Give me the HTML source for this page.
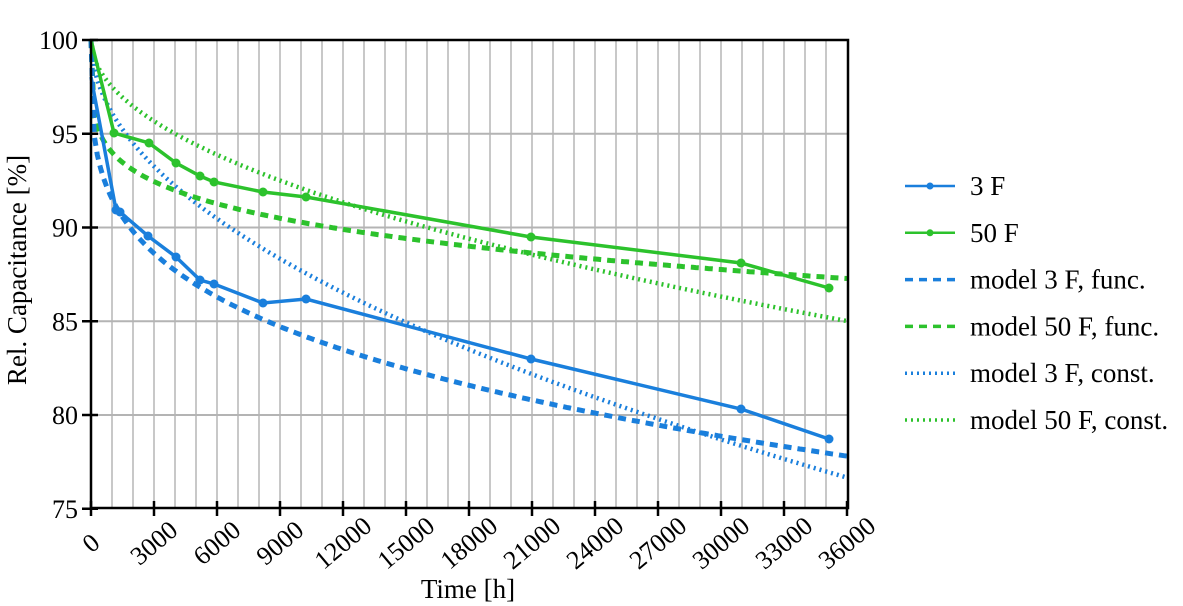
<!DOCTYPE html>
<html><head><meta charset="utf-8"><style>
body{margin:0;background:#fff}
svg{display:block;font-family:"Liberation Serif",serif}
</style></head><body>
<svg id="s" width="1183" height="606" viewBox="0 0 1183 606" xmlns="http://www.w3.org/2000/svg"></svg>
<script>
const X=t=>91+t*0.021, Y=v=>40+(100-v)*18.75;
let h='';
for(let t=1000;t<36000;t+=1000)h+=`<line x1="${X(t)}" y1="40" x2="${X(t)}" y2="508" stroke="#c8c8c8" stroke-width="2"/>`;
for(let v=80;v<100;v+=5)h+=`<line x1="91" y1="${Y(v)}" x2="848" y2="${Y(v)}" stroke="#b4b4b4" stroke-width="2"/>`;
function curve(f,col,dash,w){let p=[];for(let t=0;t<=36000;t+=150)p.push(X(t).toFixed(1)+','+Y(f(t)).toFixed(1));return `<polyline points="${p.join(' ')}" fill="none" stroke="${col}" stroke-width="${w}" stroke-dasharray="${dash}"/>`;}
const B='#1a7fdc',G='#2cc22c';
h+=curve(t=>100-0.079*Math.sqrt(t),G,'2,4',4.5);
h+=curve(t=>100-0.123*Math.sqrt(t),B,'2,4',4.5);
h+=curve(t=>100-1.405*Math.pow(t,0.21),G,'8,6',5);
h+=curve(t=>100-1.32*Math.pow(t,0.269),B,'8,6',5);
const d3=[[91,77],[116,210],[120,212],[148,236],[176,257],[200,280],[214,284],[263,303],[306,299],[531,359],[741,409],[829,439]];
const d50=[[91,40],[114,133],[149,143],[176,163],[200,176],[214,182],[263,192],[306,197],[531,237],[741,263],[829,288]];
function ser(d,c){let s=`<polyline points="${d.map(p=>p.join(',')).join(' ')}" fill="none" stroke="${c}" stroke-width="3.5"/>`;d.slice(1).forEach(p=>s+=`<circle cx="${p[0]}" cy="${p[1]}" r="4.5" fill="${c}"/>`);return s;}
h+=ser(d50,G)+ser(d3,B);
h+=`<rect x="91" y="40" width="757" height="468" fill="none" stroke="#000" stroke-width="2.5"/>`;
for(let t=0;t<=36000;t+=3000){h+=`<line x1="${X(t)}" y1="501" x2="${X(t)}" y2="516" stroke="#000" stroke-width="2.5"/>`;
h+=`<text x="${X(t)}" y="543" font-size="26" text-anchor="middle" dominant-baseline="central" transform="rotate(-40 ${X(t)} 543)">${t}</text>`;}
for(let v=75;v<=100;v+=5){h+=`<line x1="82" y1="${Y(v)}" x2="98" y2="${Y(v)}" stroke="#000" stroke-width="2.5"/>`;
h+=`<text x="78" y="${Y(v)+9}" font-size="26" text-anchor="end">${v}</text>`;}
h+=`<text x="468" y="598" font-size="27" text-anchor="middle">Time [h]</text>`;
h+=`<text x="0" y="0" font-size="27" text-anchor="middle" transform="translate(26 270) rotate(-90)">Rel. Capacitance [%]</text>`;
const L=[['3 F',B,'',1],['50 F',G,'',1],['model 3 F, func.',B,'8,6',0],['model 50 F, func.',G,'8,6',0],['model 3 F, const.',B,'2,4',0],['model 50 F, const.',G,'2,4',0]];
L.forEach((l,i)=>{const y=186+i*46.8;h+=`<line x1="905" y1="${y}" x2="955" y2="${y}" stroke="${l[1]}" stroke-width="${l[3]?2.5:3.5}" stroke-dasharray="${l[2]}"/>`;
if(l[3])h+=`<circle cx="930" cy="${y}" r="3.5" fill="${l[1]}"/>`;
h+=`<text x="970" y="${y+9}" font-size="27">${l[0]}</text>`;});
document.getElementById('s').innerHTML=h;
</script>
</body></html>
